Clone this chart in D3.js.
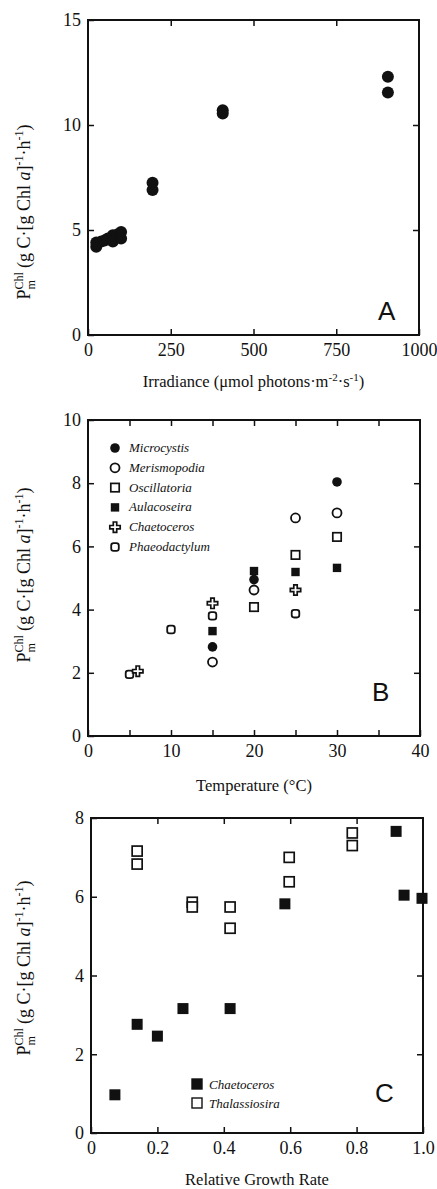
<!DOCTYPE html>
<html><head><meta charset="utf-8">
<script src="https://cdn.jsdelivr.net/npm/d3@7"></script>
<style>
body{margin:0;background:#fff;}
svg text{font-family:"Liberation Serif","DejaVu Serif",serif !important;fill:#111;}
svg text.sans{font-family:"Liberation Sans","DejaVu Sans",sans-serif !important;}
</style></head>
<body>
<svg id="c" width="437" height="1189"></svg>
<script>
// ---- Panel A data ----
const irrX = [25, 25, 40, 50, 60, 75, 75, 90, 100, 100, 195, 195, 407, 407, 906, 906];
const irrY = [4.2, 4.4, 4.45, 4.5, 4.6, 4.75, 4.45, 4.8, 4.9, 4.6, 7.25, 6.9, 10.7, 10.55, 12.3, 11.55];
const aXTicks = [0, 250, 500, 750, 1000];
const aYTicks = [0, 5, 10, 15];

// ---- Panel B data ----
const species = ["Microcystis", "Merismopodia", "Oscillatoria", "Aulacoseira", "Chaetoceros", "Phaeodactylum"];
const microX = [15, 20, 30];           const microY = [2.82, 4.95, 8.04];
const merisX = [15, 20, 25, 30];       const merisY = [2.34, 4.62, 6.9, 7.06];
const oscilX = [20, 25, 30];           const oscilY = [4.08, 5.73, 6.3];
const aulacX = [15, 20, 25, 30];       const aulacY = [3.32, 5.22, 5.19, 5.32];
const chaetBX = [6, 15, 25];           const chaetBY = [2.05, 4.2, 4.62];
const phaeoX = [5, 10, 15, 25];        const phaeoY = [1.95, 3.37, 3.8, 3.87];
const bXTicks = [0, 10, 20, 30, 40];
const bXMinor = [5, 15, 25, 35];
const bYTicks = [0, 2, 4, 6, 8, 10];

// ---- Panel C data ----
const chaetCX = [0.072, 0.139, 0.20, 0.277, 0.419, 0.584, 0.919, 0.943, 0.997];
const chaetCY = [0.97, 2.76, 2.46, 3.16, 3.16, 5.82, 7.66, 6.04, 5.96];
const thalX = [0.139, 0.139, 0.305, 0.305, 0.419, 0.419, 0.597, 0.597, 0.787, 0.787];
const thalY = [7.16, 6.83, 5.86, 5.74, 5.74, 5.2, 7.0, 6.38, 7.62, 7.3];
const cXTicks = [0, 0.2, 0.4, 0.6, 0.8, 1.0];
const cYTicks = [0, 2, 4, 6, 8];

const svg = d3.select("#c");

function measure(str, size) {
  const t = svg.append("text").attr("font-size", size).text(str);
  const w = t.node().getComputedTextLength();
  t.remove();
  return w;
}

function yTitle(g, cx, cy) {
  const fs = 18, ss = 12;
  const wChl = measure("Chl", ss), wm = measure("m", ss);
  const t = g.append("text")
    .attr("transform", `translate(${cx},${cy}) rotate(-90)`)
    .attr("text-anchor", "middle")
    .attr("font-size", fs);
  t.append("tspan").text("P");
  t.append("tspan").attr("font-size", ss).attr("dy", -7).text("Chl");
  t.append("tspan").attr("font-size", ss).attr("dx", -wChl).attr("dy", 12).text("m");
  t.append("tspan").attr("dx", (wChl - wm) + 4).attr("dy", -5).text("(g C·[g Chl ");
  t.append("tspan").attr("font-style", "italic").text("a");
  t.append("tspan").text("]");
  t.append("tspan").attr("font-size", ss).attr("dy", -7).text("-1");
  t.append("tspan").attr("dy", 7).text("·h");
  t.append("tspan").attr("font-size", ss).attr("dy", -7).text("-1");
  t.append("tspan").attr("dy", 7).text(")");
}

function frame(x, y, xTicks, xFmt, yTicks, xInner, yInner) {
  const g = svg.append("g");
  const [x0, x1] = x.range(), [y0, y1] = y.range();
  const styleAxis = s => {
    s.select(".domain").remove();
    s.attr("font-family", null);
    s.selectAll("text").attr("font-size", 18).attr("fill", "#111");
    s.selectAll("line").attr("stroke", "#111").attr("stroke-width", 1.5);
  };
  g.append("g").attr("transform", `translate(0,${y0})`)
    .call(d3.axisBottom(x).tickValues(xTicks).tickSize(-6).tickSizeOuter(0).tickPadding(8).tickFormat(xFmt))
    .call(styleAxis);
  g.append("g").attr("transform", `translate(0,${y1})`)
    .call(d3.axisTop(x).tickValues(xInner).tickSize(-6).tickSizeOuter(0).tickFormat(""))
    .call(styleAxis);
  g.append("g").attr("transform", `translate(${x0},0)`)
    .call(d3.axisLeft(y).tickValues(yTicks).tickSize(-6).tickSizeOuter(0).tickPadding(7).tickFormat(d3.format("d")))
    .call(styleAxis);
  g.append("g").attr("transform", `translate(${x1},0)`)
    .call(d3.axisRight(y).tickValues(yInner).tickSize(-6).tickSizeOuter(0).tickFormat(""))
    .call(styleAxis);
  g.append("rect").attr("x", x0).attr("y", y1).attr("width", x1 - x0).attr("height", y0 - y1)
    .attr("fill", "none").attr("stroke", "#111").attr("stroke-width", 2);
  return g;
}

// ================= Panel A =================
const xA = d3.scaleLinear().domain([0, 1000]).range([88, 419]);
const yA = d3.scaleLinear().domain([0, 15]).range([335, 20]);
frame(xA, yA, aXTicks, d3.format("d"), aYTicks, [250, 500, 750], [5, 10]);
svg.append("g").selectAll("circle").data(d3.zip(irrX, irrY)).join("circle")
  .attr("cx", d => xA(d[0])).attr("cy", d => yA(d[1])).attr("r", 6).attr("fill", "#111");
svg.append("text").attr("x", (88 + 419) / 2).attr("y", 387).attr("text-anchor", "middle").attr("font-size", 16.5)
  .call(t => {
    t.append("tspan").text("Irradiance (μmol photons·m");
    t.append("tspan").attr("font-size", 11).attr("dy", -6).text("-2");
    t.append("tspan").attr("dy", 6).text("·s");
    t.append("tspan").attr("font-size", 11).attr("dy", -6).text("-1");
    t.append("tspan").attr("dy", 6).text(")");
  });
svg.append("text").attr("class", "sans").attr("x", 378).attr("y", 320).attr("font-size", 26).text("A");
yTitle(svg, 30, 212);

// ================= Panel B =================
const xB = d3.scaleLinear().domain([0, 40]).range([88, 420]);
const yB = d3.scaleLinear().domain([0, 10]).range([736, 420]);
frame(xB, yB, bXTicks.concat(bXMinor), d => (bXTicks.includes(d) ? d : ""), bYTicks, bXTicks.slice(1, -1).concat(bXMinor), [2, 4, 6, 8]);

const crossPath = (s) => {
  const a = s * 0.33, b = s;
  return `M${-a},${-b}H${a}V${-a}H${b}V${a}H${a}V${b}H${-a}V${a}H${-b}V${-a}H${-a}Z`;
};
function marker(sel, type) {
  if (type === "fc") sel.append("circle").attr("r", 4.8).attr("fill", "#111");
  if (type === "oc") sel.append("circle").attr("r", 4.5).attr("fill", "#fff").attr("stroke", "#111").attr("stroke-width", 1.8);
  if (type === "os") sel.append("rect").attr("x", -4.2).attr("y", -4.2).attr("width", 8.4).attr("height", 8.4).attr("fill", "#fff").attr("stroke", "#111").attr("stroke-width", 1.7);
  if (type === "fs") sel.append("rect").attr("x", -4.2).attr("y", -4.2).attr("width", 8.4).attr("height", 8.4).attr("fill", "#111");
  if (type === "cr") sel.append("path").attr("d", crossPath(5.2)).attr("fill", "#fff").attr("stroke", "#111").attr("stroke-width", 1.7);
  if (type === "ph") sel.append("rect").attr("x", -3.8).attr("y", -3.8).attr("width", 7.6).attr("height", 7.6).attr("rx", 2.4).attr("fill", "#fff").attr("stroke", "#111").attr("stroke-width", 1.8);
}
const bSeries = [
  [phaeoX, phaeoY, "ph"], [chaetBX, chaetBY, "cr"], [oscilX, oscilY, "os"],
  [merisX, merisY, "oc"], [aulacX, aulacY, "fs"], [microX, microY, "fc"]
];
bSeries.forEach(([xs, ys, t]) => {
  d3.zip(xs, ys).forEach(d => {
    const g = svg.append("g").attr("transform", `translate(${xB(d[0])},${yB(d[1])})`);
    marker(g, t);
  });
});
const legTypes = ["fc", "oc", "os", "fs", "cr", "ph"];
species.forEach((s, i) => {
  const yy = 448 + i * 19.8;
  marker(svg.append("g").attr("transform", `translate(115,${yy})`), legTypes[i]);
  svg.append("text").attr("x", 129).attr("y", yy + 4).attr("font-size", 13).attr("font-style", "italic").text(s);
});
svg.append("text").attr("x", (88 + 420) / 2).attr("y", 791).attr("text-anchor", "middle").attr("font-size", 16.5).text("Temperature (°C)");
svg.append("text").attr("class", "sans").attr("x", 372).attr("y", 701).attr("font-size", 26).text("B");
yTitle(svg, 30, 575);

// ================= Panel C =================
const xC = d3.scaleLinear().domain([0, 1]).range([91, 423]);
const yC = d3.scaleLinear().domain([0, 8]).range([1133, 818]);
frame(xC, yC, cXTicks, d => (d === 0 ? "0" : d3.format(".1f")(d)), cYTicks, [0.2, 0.4, 0.6, 0.8], [2, 4, 6]);
svg.append("g").selectAll("rect").data(d3.zip(thalX, thalY)).join("rect")
  .attr("x", d => xC(d[0]) - 5).attr("y", d => yC(d[1]) - 5).attr("width", 10).attr("height", 10)
  .attr("fill", "#fff").attr("stroke", "#111").attr("stroke-width", 1.7);
svg.append("g").selectAll("rect").data(d3.zip(chaetCX, chaetCY)).join("rect")
  .attr("x", d => xC(d[0]) - 5.5).attr("y", d => yC(d[1]) - 5.5).attr("width", 11).attr("height", 11)
  .attr("fill", "#111");
const cLegend = ["Chaetoceros", "Thalassiosira"];
cLegend.forEach((s, i) => {
  const yy = 1084 + i * 19;
  svg.append("rect").attr("x", 192).attr("y", yy - 5).attr("width", 10).attr("height", 10)
    .attr("fill", i === 0 ? "#111" : "#fff").attr("stroke", "#111").attr("stroke-width", 1.4);
  svg.append("text").attr("x", 209).attr("y", yy + 5).attr("font-size", 13).attr("font-style", "italic").text(s);
});
svg.append("text").attr("x", (91 + 423) / 2).attr("y", 1185).attr("text-anchor", "middle").attr("font-size", 16.5).text("Relative Growth Rate");
svg.append("text").attr("class", "sans").attr("x", 375).attr("y", 1102).attr("font-size", 26).text("C");
yTitle(svg, 30, 968);
</script>
</body></html>
